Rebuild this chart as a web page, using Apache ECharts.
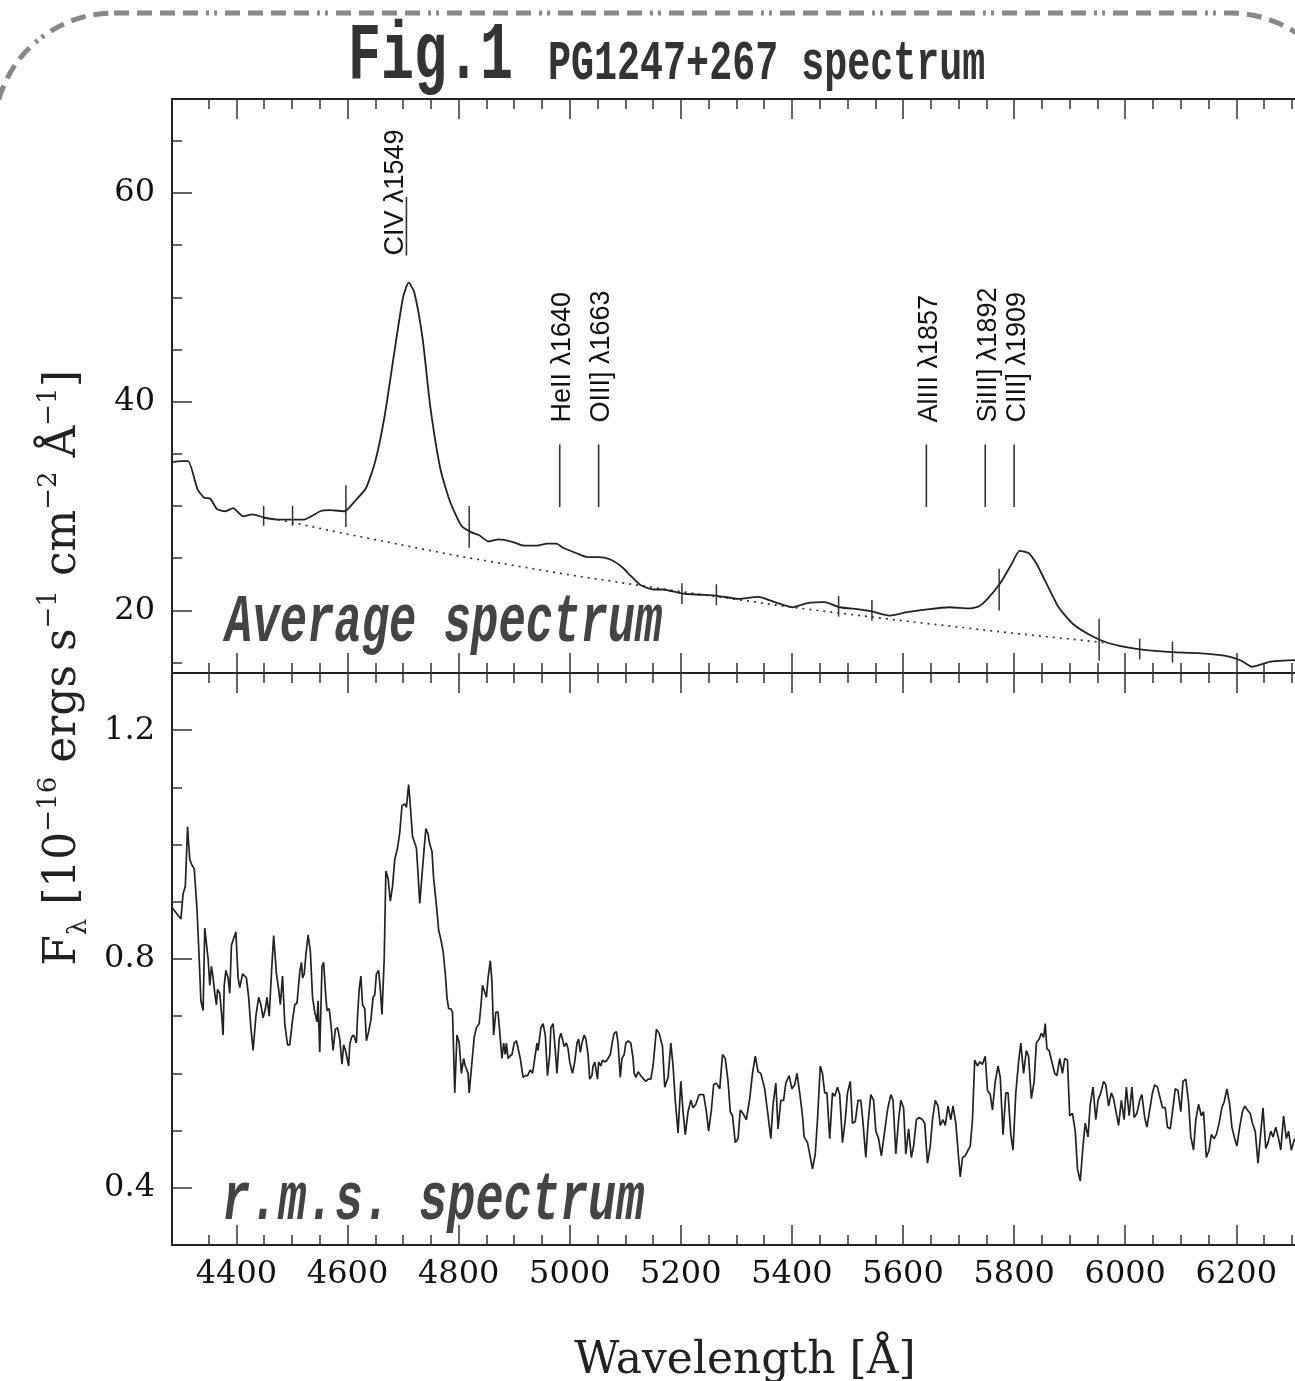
<!DOCTYPE html>
<html><head><meta charset="utf-8">
<script src="https://cdn.jsdelivr.net/npm/echarts@6/dist/echarts.min.js"></script>
<style>html,body{margin:0;padding:0;background:#fff}#c{width:1295px;height:1381px}</style>
</head><body><div id="c"></div>
<script>
// ---------------- DATA ----------------
// Average spectrum [wavelength Å, flux 1e-16]
const avgSpectrum = [[4284,34.2],[4301,34.3],[4313,34.3],[4330,31.6],[4342,30.8],[4353,30.7],[4365,29.7],[4380,29.5],[4394,29.8],[4412,29.0],[4429,29.2],[4449,28.9],[4476,28.7],[4502,28.7],[4522,28.7],[4551,29.5],[4569,29.6],[4595,29.5],[4612,30.4],[4633,31.7],[4650,34.3],[4667,38.7],[4685,45.0],[4700,50.0],[4710,51.4],[4720,50.5],[4735,46.1],[4749,39.5],[4767,33.6],[4784,30.5],[4805,28.1],[4822,27.5],[4837,27.2],[4854,26.6],[4872,26.8],[4895,26.6],[4918,26.2],[4941,26.2],[4959,26.4],[4976,26.4],[4988,26.0],[5011,25.5],[5032,25.1],[5052,25.1],[5072,24.9],[5093,24.2],[5110,23.3],[5128,22.4],[5151,22.0],[5167,22.0],[5204,21.6],[5235,21.5],[5266,21.4],[5304,21.1],[5339,21.3],[5374,20.7],[5401,20.3],[5428,20.7],[5459,20.8],[5486,20.3],[5521,20.1],[5544,19.9],[5575,19.5],[5605,19.8],[5644,20.1],[5683,20.3],[5721,20.2],[5737,20.4],[5752,21.1],[5775,22.6],[5795,24.4],[5810,25.7],[5826,25.5],[5841,24.4],[5857,22.7],[5880,20.3],[5906,18.7],[5938,17.6],[5968,16.9],[5999,16.5],[6038,16.2],[6084,16.0],[6131,15.9],[6185,15.6],[6208,15.2],[6228,14.6],[6243,14.8],[6262,15.1],[6293,15.2],[6323,15.3]];
// Continuum fit (dotted)
const continuum = [[4475,28.7],[4600,27.3],[4800,25.2],[5000,23.4],[5200,21.8],[5400,20.3],[5600,19.0],[5800,17.8],[5965,16.9]];
// Window / integration-limit marks [wavelength, low flux, high flux]
const windowMarks = [[4449,28.1,30.0],[4501,28.1,30.0],[4597,28.0,32.0],[4819,26.0,30.0],[5202,20.6,22.6],[5264,20.5,22.5],[5484,19.4,21.4],[5544,19.0,21.0],[5773,20.0,24.0],[5953,15.2,19.2],[6026,15.3,17.3],[6085,15.0,17.0]];
// Emission line identifications
const lineNames = ['CIV λ1549','HeII λ1640','OIII] λ1663','AlIII λ1857','SiIII] λ1892','CIII] λ1909'];
const lineWave  = [4706, 4982, 5052, 5642, 5748, 5800];
const lineMarkLow  = [54.0, 29.9, 29.9, 29.9, 29.9, 29.9];
const lineMarkHigh = [59.6, 35.9, 35.9, 35.9, 35.9, 35.9];
const lineTextBase = [54.0, 38.0, 38.0, 38.0, 38.0, 38.0];
// r.m.s. spectrum
const rmsSpectrum = [[4284,0.89],[4300,0.87],[4304,0.914],[4308,0.927],[4312,1.031],[4314,1.001],[4316,0.974],[4320,0.964],[4324,0.958],[4329,0.887],[4333,0.800],[4336,0.727],[4340,0.710],[4343,0.854],[4346,0.851],[4349,0.800],[4352,0.754],[4355,0.787],[4358,0.767],[4361,0.740],[4364,0.720],[4366,0.747],[4370,0.740],[4373,0.707],[4376,0.667],[4378,0.754],[4381,0.780],[4385,0.767],[4388,0.740],[4391,0.824],[4394,0.827],[4399,0.847],[4403,0.767],[4406,0.750],[4411,0.774],[4418,0.767],[4422,0.733],[4426,0.680],[4430,0.640],[4435,0.700],[4440,0.733],[4444,0.720],[4448,0.697],[4452,0.713],[4455,0.733],[4459,0.700],[4463,0.774],[4467,0.841],[4472,0.774],[4476,0.747],[4479,0.720],[4483,0.770],[4487,0.687],[4492,0.650],[4496,0.650],[4501,0.693],[4505,0.720],[4509,0.723],[4514,0.777],[4517,0.794],[4519,0.767],[4522,0.774],[4525,0.807],[4529,0.842],[4533,0.814],[4537,0.733],[4541,0.707],[4545,0.690],[4547,0.727],[4550,0.637],[4554,0.787],[4557,0.794],[4561,0.733],[4563,0.710],[4567,0.713],[4570,0.687],[4574,0.640],[4578,0.677],[4582,0.680],[4586,0.660],[4590,0.616],[4593,0.650],[4597,0.637],[4602,0.613],[4604,0.650],[4607,0.663],[4611,0.667],[4616,0.653],[4618,0.700],[4621,0.747],[4624,0.770],[4627,0.720],[4631,0.713],[4634,0.657],[4638,0.673],[4642,0.693],[4646,0.733],[4649,0.737],[4652,0.774],[4656,0.780],[4659,0.747],[4662,0.703],[4666,0.800],[4669,0.954],[4673,0.941],[4677,0.901],[4681,0.927],[4685,0.974],[4690,0.994],[4694,1.021],[4698,1.068],[4703,1.071],[4706,1.065],[4710,1.105],[4713,1.068],[4717,1.014],[4720,1.011],[4724,0.994],[4727,0.948],[4730,0.897],[4733,0.934],[4738,0.994],[4741,1.028],[4745,1.018],[4748,1.001],[4752,0.988],[4755,0.941],[4760,0.894],[4764,0.851],[4768,0.834],[4772,0.814],[4776,0.774],[4779,0.733],[4782,0.713],[4786,0.713],[4789,0.707],[4793,0.566],[4797,0.667],[4801,0.653],[4805,0.600],[4809,0.626],[4812,0.613],[4817,0.600],[4819,0.566],[4824,0.620],[4828,0.663],[4832,0.680],[4837,0.687],[4840,0.717],[4843,0.754],[4846,0.757],[4850,0.733],[4853,0.767],[4857,0.797],[4860,0.760],[4863,0.667],[4867,0.707],[4871,0.707],[4875,0.660],[4878,0.626],[4881,0.653],[4884,0.633],[4886,0.653],[4889,0.626],[4892,0.630],[4896,0.633],[4900,0.653],[4904,0.657],[4907,0.660],[4911,0.626],[4916,0.593],[4920,0.596],[4924,0.596],[4929,0.606],[4933,0.600],[4937,0.626],[4941,0.653],[4943,0.640],[4948,0.680],[4952,0.687],[4956,0.667],[4960,0.596],[4964,0.633],[4966,0.680],[4970,0.687],[4974,0.640],[4977,0.600],[4981,0.660],[4984,0.670],[4987,0.660],[4990,0.647],[4994,0.653],[4997,0.643],[5000,0.620],[5005,0.600],[5009,0.620],[5013,0.653],[5016,0.660],[5019,0.637],[5022,0.653],[5026,0.667],[5029,0.660],[5033,0.633],[5036,0.590],[5040,0.596],[5042,0.613],[5045,0.620],[5050,0.590],[5052,0.620],[5056,0.613],[5059,0.623],[5063,0.620],[5067,0.623],[5070,0.626],[5073,0.633],[5077,0.657],[5080,0.670],[5084,0.673],[5087,0.653],[5091,0.593],[5094,0.626],[5098,0.633],[5101,0.653],[5105,0.657],[5110,0.653],[5114,0.626],[5116,0.600],[5119,0.593],[5123,0.603],[5128,0.596],[5133,0.590],[5137,0.586],[5141,0.590],[5146,0.590],[5150,0.613],[5156,0.677],[5161,0.670],[5167,0.647],[5171,0.576],[5177,0.593],[5182,0.653],[5186,0.613],[5190,0.553],[5195,0.496],[5200,0.586],[5204,0.533],[5208,0.493],[5213,0.533],[5218,0.553],[5222,0.540],[5227,0.546],[5233,0.563],[5241,0.563],[5246,0.533],[5250,0.499],[5255,0.536],[5259,0.580],[5264,0.583],[5270,0.573],[5275,0.633],[5280,0.626],[5285,0.586],[5289,0.533],[5293,0.526],[5298,0.479],[5303,0.486],[5307,0.536],[5312,0.530],[5318,0.519],[5324,0.556],[5329,0.600],[5334,0.630],[5339,0.603],[5344,0.600],[5351,0.573],[5357,0.526],[5362,0.486],[5366,0.546],[5371,0.583],[5375,0.503],[5380,0.553],[5385,0.553],[5389,0.583],[5395,0.596],[5400,0.573],[5405,0.580],[5409,0.600],[5414,0.566],[5419,0.526],[5422,0.489],[5428,0.479],[5432,0.459],[5437,0.433],[5442,0.459],[5446,0.519],[5451,0.613],[5455,0.600],[5459,0.566],[5463,0.566],[5468,0.486],[5473,0.566],[5477,0.560],[5482,0.576],[5486,0.563],[5491,0.479],[5496,0.519],[5500,0.566],[5505,0.586],[5509,0.513],[5514,0.516],[5519,0.553],[5524,0.553],[5528,0.513],[5533,0.453],[5537,0.513],[5542,0.563],[5547,0.553],[5551,0.499],[5556,0.486],[5561,0.456],[5567,0.499],[5572,0.536],[5578,0.563],[5582,0.553],[5587,0.459],[5592,0.519],[5596,0.553],[5601,0.540],[5605,0.459],[5610,0.503],[5615,0.453],[5619,0.473],[5624,0.519],[5629,0.523],[5635,0.519],[5639,0.513],[5644,0.443],[5649,0.473],[5653,0.519],[5658,0.553],[5663,0.543],[5667,0.509],[5672,0.519],[5676,0.509],[5681,0.543],[5686,0.519],[5690,0.543],[5695,0.513],[5700,0.453],[5703,0.419],[5707,0.453],[5712,0.456],[5717,0.466],[5721,0.473],[5725,0.519],[5729,0.623],[5734,0.613],[5738,0.620],[5743,0.616],[5748,0.630],[5752,0.570],[5757,0.563],[5761,0.536],[5766,0.586],[5771,0.613],[5775,0.593],[5780,0.493],[5785,0.566],[5789,0.566],[5794,0.493],[5798,0.466],[5803,0.566],[5808,0.620],[5812,0.653],[5817,0.600],[5822,0.640],[5826,0.630],[5831,0.556],[5836,0.586],[5840,0.653],[5845,0.660],[5849,0.670],[5853,0.663],[5856,0.687],[5859,0.643],[5863,0.640],[5868,0.620],[5873,0.600],[5877,0.596],[5882,0.626],[5887,0.600],[5891,0.626],[5896,0.623],[5900,0.526],[5905,0.530],[5910,0.499],[5914,0.433],[5919,0.412],[5924,0.473],[5928,0.513],[5933,0.489],[5937,0.546],[5942,0.576],[5947,0.519],[5951,0.553],[5956,0.566],[5961,0.586],[5965,0.580],[5970,0.543],[5975,0.566],[5979,0.556],[5984,0.530],[5988,0.509],[5993,0.553],[5998,0.519],[6002,0.576],[6007,0.526],[6012,0.576],[6016,0.523],[6021,0.530],[6026,0.553],[6030,0.563],[6035,0.523],[6039,0.506],[6044,0.536],[6049,0.566],[6053,0.580],[6058,0.576],[6063,0.556],[6067,0.540],[6072,0.540],[6076,0.506],[6081,0.503],[6086,0.540],[6090,0.573],[6095,0.570],[6100,0.533],[6104,0.586],[6109,0.590],[6114,0.550],[6118,0.489],[6123,0.466],[6127,0.519],[6132,0.546],[6137,0.526],[6141,0.533],[6146,0.453],[6151,0.466],[6155,0.493],[6160,0.486],[6164,0.493],[6169,0.513],[6174,0.540],[6178,0.550],[6183,0.573],[6188,0.546],[6192,0.506],[6197,0.486],[6201,0.473],[6206,0.506],[6211,0.533],[6215,0.543],[6220,0.536],[6225,0.530],[6229,0.513],[6234,0.499],[6239,0.443],[6243,0.486],[6248,0.540],[6253,0.469],[6257,0.479],[6262,0.499],[6266,0.489],[6271,0.506],[6276,0.486],[6280,0.466],[6285,0.526],[6290,0.486],[6294,0.499],[6299,0.466],[6304,0.483],[6308,0.489],[6313,0.489],[6317,0.493],[6322,0.493]];
// Axis ticks / labels
const xMajorTicks = [4400,4600,4800,5000,5200,5400,5600,5800,6000,6200];
const xMinorTicks = [4350,4450,4500,4550,4650,4700,4750,4850,4900,4950,5050,5100,5150,5250,5300,5350,5450,5500,5550,5650,5700,5750,5850,5900,5950,6050,6100,6150,6250,6300];
const xLabelValues = [4400,4600,4800,5000,5200,5400,5600,5800,6000,6200];
const yTopMajor = [20,40,60];
const yTopMinor = [15,25,30,35,45,50,55,65];
const yBotMajor = [0.4,0.8,1.2];
const yBotMinor = [0.5,0.6,0.7,0.9,1.0,1.1];

// ---------------- LAYOUT ----------------
const X_MIN = 4284, X_MAX = 6320;
const Y_TOP = [14, 69], Y_BOT = [0.3, 1.3];
const GL = 172, GW = 1131;
const idLabelDx = [-11, 3, 3, 3, 3, 3];
const INK = '#222';
const tickFont = {fontFamily:'DejaVu Serif', fontSize:32, color:'#111', formatter:function(v){return String(v);}};

function xAx(grid, pos, ticks, len, line, labels) {
  return {
    type:'value', gridIndex:grid, position:pos, min:X_MIN, max:X_MAX,
    axisLine:{show:line, onZero:false, lineStyle:{color:INK, width:2}},
    axisTick:{show:true, inside:true, length:len, customValues:ticks, lineStyle:{color:'#333', width:1.5}},
    axisLabel: labels ? Object.assign({show:true, customValues:labels, margin:14}, tickFont) : {show:false},
    splitLine:{show:false}
  };
}
function yAx(grid, ext, ticks, len, line, labels) {
  return {
    type:'value', gridIndex:grid, position:'left', min:ext[0], max:ext[1],
    axisLine:{show:line, onZero:false, lineStyle:{color:INK, width:2}},
    axisTick:{show:true, inside:true, length:len, customValues:ticks, lineStyle:{color:'#333', width:1.5}},
    axisLabel: labels ? Object.assign({show:true, customValues:labels, margin:17}, tickFont) : {show:false},
    splitLine:{show:false}
  };
}

const chart = echarts.init(document.getElementById('c'));
chart.setOption({
  animation:false,
  backgroundColor:'#fff',
  grid:[
    {left:GL, top:99, width:GW, height:574, outerBoundsMode:'none', containLabel:false},
    {left:GL, top:673, width:GW, height:572, outerBoundsMode:'none', containLabel:false}
  ],
  xAxis:[
    xAx(0,'bottom',xMajorTicks,20,true,null),
    xAx(0,'bottom',xMinorTicks,10,false,null),
    xAx(0,'top',xMajorTicks,20,true,null),
    xAx(0,'top',xMinorTicks,10,false,null),
    xAx(1,'top',xMajorTicks,20,false,null),
    xAx(1,'top',xMinorTicks,10,false,null),
    xAx(1,'bottom',xMajorTicks,20,true,xLabelValues),
    xAx(1,'bottom',xMinorTicks,10,false,null)
  ],
  yAxis:[
    yAx(0,Y_TOP,yTopMajor,20,true,yTopMajor),
    yAx(0,Y_TOP,yTopMinor,10,false,null),
    yAx(1,Y_BOT,yBotMajor,20,true,yBotMajor),
    yAx(1,Y_BOT,yBotMinor,10,false,null)
  ],
  series:[
    {type:'line', xAxisIndex:0, yAxisIndex:0, data:continuum, showSymbol:false, silent:true,
     lineStyle:{color:'#333', width:1.7, type:[2,5]}},
    {type:'line', xAxisIndex:0, yAxisIndex:0, data:avgSpectrum, showSymbol:false, silent:true, smooth:0.2,
     lineStyle:{color:INK, width:1.8}},
    {type:'custom', xAxisIndex:0, yAxisIndex:0, data:windowMarks, silent:true,
     renderItem:function(params, api){
       const a = api.coord([api.value(0), api.value(1)]);
       const b = api.coord([api.value(0), api.value(2)]);
       return {type:'line', shape:{x1:a[0],y1:a[1],x2:b[0],y2:b[1]}, style:{stroke:'#333', lineWidth:1.5}};
     }},
    {type:'custom', xAxisIndex:0, yAxisIndex:0, silent:true,
     data:lineWave.map((w,i)=>[w, lineMarkLow[i], lineMarkHigh[i], lineTextBase[i]]),
     renderItem:function(params, api){
       const i = params.dataIndex;
       const a = api.coord([api.value(0), api.value(1)]);
       const b = api.coord([api.value(0), api.value(2)]);
       const t = api.coord([api.value(0), api.value(3)]);
       return {type:'group', children:[
         {type:'line', shape:{x1:a[0],y1:a[1],x2:b[0],y2:b[1]}, style:{stroke:'#333', lineWidth:1.6}},
         {type:'text', x:t[0]+idLabelDx[i], y:t[1], rotation:Math.PI/2,
          style:{text:lineNames[i], font:'27px "Liberation Sans"', fill:'#111',
                 textAlign:'left', align:'left', textVerticalAlign:'middle', verticalAlign:'middle'}}
       ]};
     }},
    {type:'line', xAxisIndex:6, yAxisIndex:2, data:rmsSpectrum, showSymbol:false, silent:true,
     lineStyle:{color:INK, width:1.7}}
  ],
  graphic:[
    {type:'rect', silent:true, z:-10, shape:{x:-6, y:13, width:1356, height:1500, r:120},
     style:{fill:'none', stroke:'#888', lineWidth:5, lineDash:[15,8,15,8,15,8,15,8,3,5,3,8]}},
    {type:'text', x:348, y:57, scaleX:0.67, silent:true,
     style:{text:'Fig.1', font:'bold 82px "Liberation Mono"', fill:'#333', textAlign:'left', align:'left', textVerticalAlign:'middle', verticalAlign:'middle'}},
    {type:'text', x:548, y:65, scaleX:0.685, silent:true,
     style:{text:'PG1247+267 spectrum', font:'bold 56px "Liberation Mono"', fill:'#333', textAlign:'left', align:'left', textVerticalAlign:'middle', verticalAlign:'middle'}},
    {type:'text', x:225, y:624, scaleX:0.67, silent:true,
     style:{text:'Average spectrum', font:'bold italic 68px "Liberation Mono"', fill:'#444', textAlign:'left', align:'left', textVerticalAlign:'middle', verticalAlign:'middle'}},
    {type:'text', x:222, y:1202, scaleX:0.69, silent:true,
     style:{text:'r.m.s. spectrum', font:'bold italic 68px "Liberation Mono"', fill:'#444', textAlign:'left', align:'left', textVerticalAlign:'middle', verticalAlign:'middle'}},
    {type:'text', x:745, y:1362, silent:true,
     style:{text:'Wavelength [Å]', font:'44px "DejaVu Serif"', fill:INK, textAlign:'center', align:'center', textVerticalAlign:'middle', verticalAlign:'middle'}},
    {type:'text', x:64, y:668, rotation:Math.PI/2, silent:true,
     style:{text:'{n|F}{sub|λ}{n| [10}{sup|−16}{n| ergs s}{sup|−1}{n| cm}{sup|−2}{n| Å}{sup|−1}{n|]}',
            textAlign:'center', align:'center', textVerticalAlign:'middle', verticalAlign:'middle', fill:INK,
            rich:{
              n:{fontFamily:'DejaVu Serif', fontSize:44, lineHeight:56, verticalAlign:'middle', fill:INK},
              sup:{fontFamily:'DejaVu Serif', fontSize:26, verticalAlign:'top', fill:INK},
              sub:{fontFamily:'DejaVu Serif', fontSize:26, verticalAlign:'bottom', fill:INK}
            }}}
  ]
});
</script>
</body></html>
